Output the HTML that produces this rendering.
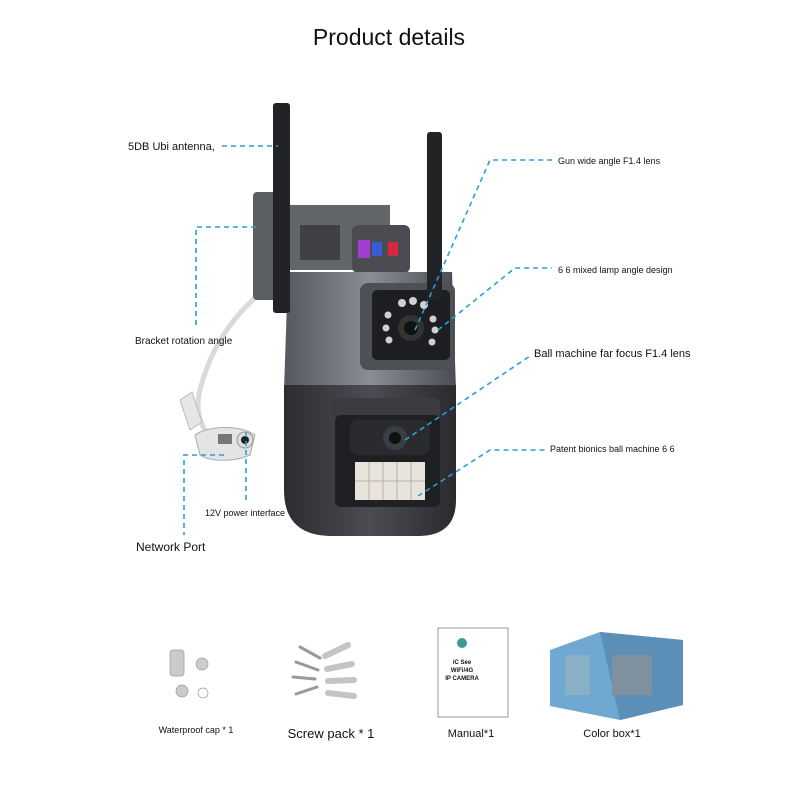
<!DOCTYPE html>
<html><head><meta charset="utf-8"><style>
html,body{margin:0;padding:0;background:#fff}
svg{display:block}
text{font-family:"Liberation Sans",sans-serif;fill:#111}
</style></head><body>
<svg width="800" height="800" viewBox="0 0 800 800" xmlns="http://www.w3.org/2000/svg">
<rect width="800" height="800" fill="#fff"/>
<text x="389" y="45" font-size="23" text-anchor="middle">Product details</text>

<defs>
<linearGradient id="g1" x1="0" x2="1"><stop offset="0" stop-color="#55585e"/><stop offset=".5" stop-color="#8a8d93"/><stop offset="1" stop-color="#4a4d52"/></linearGradient>
<linearGradient id="g2" x1="0" x2="1"><stop offset="0" stop-color="#2c2d31"/><stop offset=".5" stop-color="#4a4c52"/><stop offset="1" stop-color="#2a2b2f"/></linearGradient>
</defs>
<path d="M258 295 C230 320 210 350 200 390 C195 410 200 430 215 440" stroke="#d8dadc" stroke-width="5" fill="none"/>
<path d="M180 400 l12 -8 l10 30 l-12 8z" fill="#e4e6e8" stroke="#bbb"/>
<path d="M195 435 C210 425 240 425 255 435 L250 455 C235 462 210 462 200 455z" fill="#e2e4e6" stroke="#aaa"/>
<circle cx="245" cy="440" r="8" fill="#ddd" stroke="#999"/><circle cx="245" cy="440" r="4" fill="#222"/>
<rect x="218" y="434" width="14" height="10" fill="#777"/>
<rect x="253" y="192" width="37" height="108" rx="4" fill="#5b5e63"/>
<rect x="290" y="205" width="100" height="65" fill="#62656a"/>
<rect x="300" y="225" width="40" height="35" fill="#3e4045"/>
<rect x="352" y="225" width="58" height="48" rx="6" fill="#4b4c52"/>
<rect x="358" y="240" width="12" height="18" fill="#a33fd0"/><rect x="372" y="242" width="10" height="14" fill="#3a5bd6"/><rect x="388" y="242" width="10" height="14" fill="#d82840"/>
<path d="M288 272 L452 272 L456 390 L284 390z" fill="url(#g1)"/>
<path d="M284 385 L456 385 L456 500 Q456 535 420 536 L330 536 Q284 535 284 490z" fill="url(#g2)"/>
<rect x="360" y="283" width="95" height="87" rx="8" fill="#4d5055"/>
<rect x="372" y="290" width="78" height="70" rx="5" fill="#1d1e21"/>
<circle cx="411" cy="328" r="13" fill="#333"/><circle cx="411" cy="328" r="7" fill="#111"/>
<g fill="#cfd2d0"><circle cx="402" cy="303" r="4"/><circle cx="413" cy="301" r="4"/><circle cx="424" cy="305" r="4"/><circle cx="388" cy="315" r="3.5"/><circle cx="386" cy="328" r="3.5"/><circle cx="389" cy="340" r="3.5"/><circle cx="433" cy="319" r="3.5"/><circle cx="435" cy="330" r="3.5"/><circle cx="432" cy="342" r="3.5"/></g>
<rect x="330" y="398" width="110" height="20" rx="6" fill="#3a3c40"/>
<rect x="335" y="415" width="105" height="92" rx="6" fill="#1f2023"/>
<rect x="350" y="420" width="80" height="35" rx="8" fill="#2a2b2e"/>
<circle cx="395" cy="438" r="12" fill="#3a3d45"/><circle cx="395" cy="438" r="6" fill="#111"/>
<rect x="355" y="462" width="70" height="38" fill="#e8e4dc"/>
<g stroke="#b8b2a6" stroke-width="1"><line x1="355" y1="481" x2="425" y2="481"/><line x1="369" y1="462" x2="369" y2="500"/><line x1="383" y1="462" x2="383" y2="500"/><line x1="397" y1="462" x2="397" y2="500"/><line x1="411" y1="462" x2="411" y2="500"/></g>
<rect x="273" y="103" width="17" height="210" rx="3" fill="#222326"/>
<rect x="427" y="132" width="15" height="168" rx="3" fill="#222326"/>

<g stroke="#2a9fd6" stroke-width="1.6" stroke-dasharray="5 4" fill="none">
<path d="M222 146 H278"/>
<path d="M256 227 H196 V325"/>
<path d="M415 330 L490 160 H552"/>
<path d="M438 330 L515 268 H552"/>
<path d="M405 440 L530 356"/>
<path d="M418 496 L490 450 H545"/>
<path d="M246 432 V500"/>
<path d="M224 455 H184 V535"/>
</g>
<g font-size="10">
<text x="128" y="150" font-size="11">5DB Ubi antenna,</text>
<text x="135" y="344">Bracket rotation angle</text>
<text x="558" y="164" font-size="9">Gun wide angle F1.4 lens</text>
<text x="558" y="273" font-size="9">6 6 mixed lamp angle design</text>
<text x="534" y="357" font-size="11">Ball machine far focus F1.4 lens</text>
<text x="550" y="452" font-size="9">Patent bionics ball machine 6 6</text>
<text x="205" y="516" font-size="9">12V power interface</text>
<text x="136" y="551" font-size="12">Network Port</text>
</g>

<g fill="#c9cbcd" stroke="#999" stroke-width=".7">
<rect x="170" y="650" width="14" height="26" rx="3"/>
<circle cx="202" cy="664" r="6"/>
<circle cx="182" cy="691" r="6"/>
<circle cx="203" cy="693" r="5" fill="none"/>
</g>
<g stroke="#999" stroke-width="3" stroke-linecap="round">
<line x1="300" y1="647" x2="320" y2="658"/><line x1="296" y1="662" x2="318" y2="670"/><line x1="293" y1="677" x2="315" y2="679"/><line x1="296" y1="694" x2="317" y2="687"/>
<g stroke-width="6" stroke="#c4c4c4"><line x1="325" y1="656" x2="348" y2="645"/><line x1="327" y1="669" x2="352" y2="664"/><line x1="328" y1="681" x2="354" y2="680"/><line x1="328" y1="693" x2="354" y2="696"/></g>
</g>
<rect x="438" y="628" width="70" height="89" fill="#fff" stroke="#999"/>
<circle cx="462" cy="643" r="5" fill="#3a9a9a"/>
<text x="462" y="664" font-size="6" text-anchor="middle" font-weight="bold" fill="#444">iC See</text>
<text x="462" y="672" font-size="6" text-anchor="middle" font-weight="bold" fill="#444">WiFi/4G</text>
<text x="462" y="680" font-size="6" text-anchor="middle" font-weight="bold" fill="#444">IP CAMERA</text>
<path d="M550 650 L600 632 L683 640 L683 705 L620 720 L550 706z" fill="#6fa8d0"/>
<path d="M600 632 L683 640 L683 705 L620 720z" fill="#5b8fb8"/>
<rect x="565" y="655" width="25" height="40" fill="#8ab0c8"/>
<rect x="612" y="655" width="40" height="40" fill="#7d91a0"/>
<text x="196" y="733" font-size="9" text-anchor="middle">Waterproof cap * 1</text>
<text x="331" y="738" font-size="13" text-anchor="middle">Screw pack * 1</text>
<text x="471" y="737" font-size="11" text-anchor="middle">Manual*1</text>
<text x="612" y="737" font-size="11" text-anchor="middle">Color box*1</text>
</svg>
</body></html>
